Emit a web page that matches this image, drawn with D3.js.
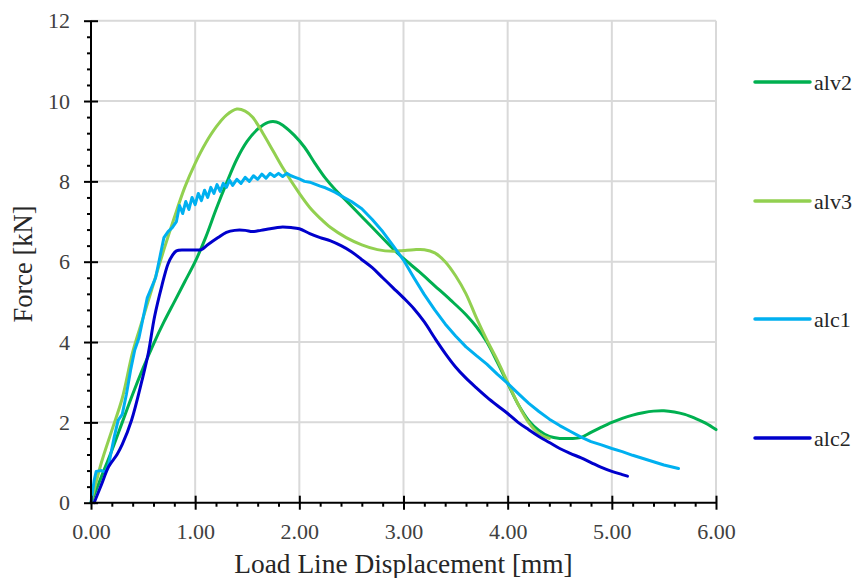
<!DOCTYPE html>
<html>
<head>
<meta charset="utf-8">
<script src="https://cdn.jsdelivr.net/npm/d3@7"></script>
<style>
  html, body { margin: 0; padding: 0; background: #fff; }
  svg { display: block; }
  text { font-family: "Liberation Serif", "Times New Roman", serif; }
</style>
</head>
<body>
<svg id="chart" width="857" height="578"></svg>
<script>
// ---------- data ----------
const seriesNames = ["alv2", "alv3", "alc1", "alc2"];
const seriesColors = ["#00B050", "#92D050", "#00B0F0", "#0000CC"];

const alv2X = [0,0.1,0.2,0.3,0.4,0.5,0.6,0.7,0.8,0.9,1.0,1.1,1.2,1.3,1.4,1.5,1.6,1.7,1.78,1.85,1.95,2.05,2.15,2.25,2.35,2.45,2.6,2.75,2.9,3.0,3.15,3.3,3.45,3.6,3.7,3.8,3.9,4.0,4.1,4.2,4.3,4.4,4.5,4.6,4.7,4.8,4.9,5.0,5.1,5.2,5.3,5.4,5.5,5.6,5.7,5.8,5.9,6.0];
const alv2Y = [0,0.65,1.3,2.0,2.7,3.35,3.95,4.5,5.0,5.5,6.0,6.6,7.3,7.95,8.55,9.0,9.3,9.47,9.48,9.38,9.15,8.85,8.45,8.08,7.78,7.52,7.12,6.72,6.32,6.08,5.75,5.4,5.05,4.68,4.38,4.0,3.5,2.97,2.45,2.05,1.8,1.65,1.6,1.6,1.62,1.75,1.88,2.0,2.1,2.18,2.24,2.28,2.29,2.26,2.2,2.1,1.98,1.82];

const alv3X = [0,0.1,0.2,0.3,0.4,0.5,0.6,0.7,0.8,0.9,1.0,1.1,1.2,1.3,1.4,1.48,1.55,1.65,1.75,1.85,2.0,2.1,2.2,2.3,2.45,2.6,2.75,2.9,3.0,3.1,3.2,3.3,3.4,3.5,3.6,3.7,3.8,3.9,4.0,4.1,4.2,4.3,4.4];
const alv3Y = [0,1.0,1.8,2.6,3.75,4.6,5.45,6.3,7.1,7.85,8.45,8.95,9.35,9.65,9.8,9.75,9.6,9.2,8.75,8.3,7.7,7.35,7.08,6.85,6.6,6.42,6.3,6.26,6.28,6.3,6.3,6.22,6.0,5.65,5.2,4.6,4.05,3.55,3.0,2.45,2.0,1.72,1.6];

const alc1X = [0,0.03,0.05,0.10,0.14,0.17,0.22,0.26,0.30,0.34,0.38,0.42,0.46,0.50,0.54,0.58,0.62,0.66,0.70,0.74,0.78,0.82,0.85,0.88,0.91,0.94,0.97,1.00,1.03,1.06,1.09,1.12,1.15,1.18,1.21,1.24,1.27,1.30,1.33,1.36,1.40,1.44,1.48,1.52,1.56,1.60,1.64,1.68,1.72,1.76,1.80,1.84,1.88,1.92,1.96,2.00,2.05,2.10,2.15,2.20,2.25,2.30,2.35,2.40,2.5,2.6,2.7,2.8,2.9,3.0,3.1,3.2,3.3,3.4,3.5,3.6,3.7,3.8,3.9,4.0,4.1,4.2,4.3,4.4,4.5,4.6,4.7,4.8,4.9,5.0,5.1,5.2,5.3,5.4,5.5,5.64];
const alc1Y = [0,0.55,0.78,0.80,0.76,0.95,1.6,2.05,2.2,2.7,3.3,3.8,4.1,4.6,5.1,5.35,5.6,6.1,6.6,6.75,6.85,7.0,7.4,7.2,7.5,7.3,7.6,7.42,7.7,7.52,7.78,7.6,7.85,7.7,7.92,7.75,7.95,7.85,8.03,7.9,8.05,7.95,8.1,8.0,8.14,8.05,8.18,8.08,8.2,8.12,8.2,8.12,8.2,8.14,8.1,8.06,8.0,7.98,7.93,7.88,7.84,7.78,7.72,7.64,7.5,7.32,7.05,6.75,6.4,6.04,5.6,5.18,4.8,4.45,4.15,3.88,3.66,3.45,3.2,2.97,2.72,2.48,2.27,2.08,1.92,1.78,1.64,1.52,1.44,1.35,1.27,1.18,1.10,1.02,0.94,0.85];

const alc2X = [0.03,0.1,0.17,0.25,0.3,0.39,0.49,0.55,0.61,0.68,0.74,0.78,0.82,0.9,1.0,1.06,1.12,1.22,1.3,1.38,1.48,1.55,1.63,1.72,1.82,1.92,2.0,2.1,2.2,2.3,2.4,2.5,2.6,2.7,2.8,2.9,3.0,3.1,3.2,3.3,3.4,3.5,3.6,3.7,3.8,3.9,4.0,4.1,4.2,4.3,4.4,4.5,4.6,4.7,4.8,4.9,5.0,5.1,5.15];
const alc2Y = [0,0.45,0.9,1.2,1.45,2.06,3.05,3.72,4.63,5.4,5.95,6.15,6.27,6.29,6.29,6.3,6.42,6.6,6.73,6.78,6.78,6.75,6.78,6.82,6.86,6.85,6.82,6.7,6.6,6.52,6.4,6.25,6.05,5.85,5.6,5.35,5.1,4.83,4.5,4.1,3.72,3.38,3.1,2.86,2.63,2.42,2.22,2.0,1.82,1.65,1.5,1.35,1.23,1.12,1.0,0.88,0.78,0.7,0.66];

const xTicks = [0,1,2,3,4,5,6];
const yTicks = [0,2,4,6,8,10,12];
const xTitle = "Load Line Displacement [mm]";
const yTitle = "Force [kN]";

// ---------- layout ----------
const svg = d3.select("#chart");
svg.append("rect").attr("width", 857).attr("height", 578).attr("fill", "#fff");

const L = 91, R = 716, T = 20.7, B = 502.7;
const x = d3.scaleLinear().domain([0, 6]).range([L, R]);
const y = d3.scaleLinear().domain([0, 12]).range([B, T]);

// gridlines
const grid = svg.append("g");
grid.selectAll(".gx").data(xTicks.slice(1)).join("line")
  .attr("x1", d => x(d)).attr("x2", d => x(d)).attr("y1", T).attr("y2", B)
  .attr("stroke", "#d9d9d9").attr("stroke-width", 2);
grid.selectAll(".gy").data(yTicks.slice(1)).join("line")
  .attr("x1", L).attr("x2", R).attr("y1", d => y(d)).attr("y2", d => y(d))
  .attr("stroke", "#d9d9d9").attr("stroke-width", 2);

// series
const allX = [alv2X, alv3X, alc1X, alc2X];
const allY = [alv2Y, alv3Y, alc1Y, alc2Y];
const curves = [d3.curveCatmullRom, d3.curveCatmullRom, d3.curveLinear, d3.curveCatmullRom];
const lines = svg.append("g");
seriesNames.forEach((name, i) => {
  const pts = allX[i].map((v, j) => [v, allY[i][j]]);
  const gen = d3.line().x(d => x(d[0])).y(d => y(d[1])).curve(curves[i]);
  lines.append("path").datum(pts)
    .attr("d", gen)
    .attr("fill", "none")
    .attr("stroke", seriesColors[i])
    .attr("stroke-width", 3)
    .attr("stroke-linejoin", "round")
    .attr("stroke-linecap", "round");
});

// axes
const fontSize = 22;
const xAxis = d3.axisBottom(x).tickValues(xTicks).tickFormat(d3.format(".2f")).tickSize(7).tickPadding(14);
const gx = svg.append("g").attr("transform", `translate(0,${B})`).call(xAxis);
const xMinor = d3.axisBottom(x).tickValues(d3.range(0, 6.001, 0.2).filter(v => Math.abs(v - Math.round(v)) > 1e-6)).tickSize(4).tickFormat("");
svg.append("g").attr("transform", `translate(0,${B})`).call(xMinor)
  .call(g => g.select(".domain").remove())
  .selectAll("line").attr("stroke", "#000").attr("stroke-width", 2);
gx.selectAll(".tick line").attr("y1", -7).attr("stroke", "#000").attr("stroke-width", 2);
gx.select(".domain").attr("stroke", "#000").attr("stroke-width", 2).attr("d", `M${L},0H${R}`);
gx.selectAll("text").attr("font-size", fontSize).attr("fill", "#404040")
  .attr("font-family", "Liberation Serif");

const yAxis = d3.axisLeft(y).tickValues(yTicks).tickFormat(d3.format("d")).tickSize(7).tickPadding(14);
const gy = svg.append("g").attr("transform", `translate(${L},0)`).call(yAxis);
const yMinor = d3.axisLeft(y).tickValues(d3.range(0, 12.001, 0.4).filter(v => Math.abs(v / 2 - Math.round(v / 2)) > 1e-6)).tickSize(4).tickFormat("");
svg.append("g").attr("transform", `translate(${L},0)`).call(yMinor)
  .call(g => g.select(".domain").remove())
  .selectAll("line").attr("stroke", "#000").attr("stroke-width", 2);
gy.selectAll(".tick line").attr("x1", 7).attr("stroke", "#000").attr("stroke-width", 2);
gy.select(".domain").attr("stroke", "#000").attr("stroke-width", 2).attr("d", `M0,${B}V${T}`);
gy.selectAll("text").attr("font-size", fontSize).attr("fill", "#404040")
  .attr("font-family", "Liberation Serif");

// axis titles
svg.append("text").attr("x", 403.5).attr("y", 573)
  .attr("text-anchor", "middle").attr("font-size", 27.4).attr("fill", "#262626")
  .text(xTitle);
svg.append("text").attr("transform", `translate(32,${264}) rotate(-90)`)
  .attr("text-anchor", "middle").attr("font-size", 26.5).attr("fill", "#262626")
  .text(yTitle);

// legend
const legY = [82, 201, 319, 438];
const leg = svg.append("g");
seriesNames.forEach((name, i) => {
  leg.append("line").attr("x1", 755).attr("x2", 810).attr("y1", legY[i]).attr("y2", legY[i])
    .attr("stroke", seriesColors[i]).attr("stroke-width", 3.5).attr("stroke-linecap", "round");
  leg.append("text").attr("x", 814).attr("y", legY[i] + 8)
    .attr("font-size", 22).attr("fill", "#262626").text(name);
});
</script>
</body>
</html>
